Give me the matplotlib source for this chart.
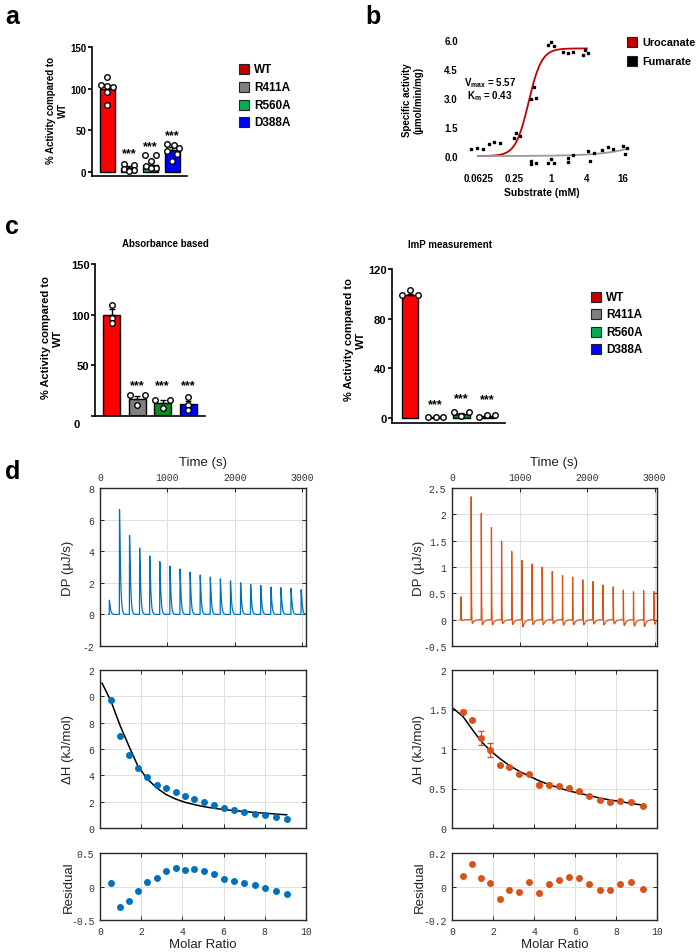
import numpy as np
import matplotlib.pyplot as plt
from matplotlib.patches import Rectangle

plt.rcParams["font.family"] = ["Liberation Sans", "DejaVu Sans"]
plt.rcParams["axes.unicode_minus"] = False

W, H = 698, 953

# ---------------------------------------------------------------------------
# Data
# ---------------------------------------------------------------------------
groups = ["WT", "R411A", "R560A", "D388A"]

# panel a: % activity (bars = mean, error = SEM, open circles = replicates)
a_mean = [100, 5, 9, 27]
a_sem = [5, 1.8, 3, 3]
a_points = [[114, 105, 103, 102, 96, 80],
            [10, 9, 4, 2, 3, 1],
            [21, 20, 13, 7, 5, 5],
            [34, 33, 29, 25, 22, 13]]
a_star_y = [23, 31, 44]

# panel b: substrate titration
uro_x = [0.048, 0.06, 0.076, 0.094, 0.115, 0.143, 0.245, 0.27, 0.31,
         0.47, 0.53, 0.58, 0.91, 1.01, 1.15, 1.58, 1.97, 2.38, 3.4, 3.73, 4.2]
uro_y = [0.34, 0.43, 0.34, 0.63, 0.72, 0.69, 0.93, 1.17, 1.03,
         2.95, 3.55, 3.0, 5.73, 5.91, 5.69, 5.38, 5.35, 5.4, 5.21, 5.49, 5.35]
fum_x = [0.48, 0.48, 0.58, 0.91, 1.01, 1.15, 1.97, 1.97, 2.38,
         4.2, 4.6, 5.3, 7.3, 8.9, 11.1, 15.8, 17.3, 18.9]
fum_y = [-0.43, -0.26, -0.34, -0.34, -0.14, -0.34, -0.31, -0.09, 0.07,
         0.26, -0.24, 0.17, 0.29, 0.46, 0.34, 0.5, 0.12, 0.43]
vmax, km, hill_n = 5.57, 0.43, 4.0
fum_slope = 0.02

# panel c: absorbance based / ImP measurement
c1_mean = [100, 17, 13, 11.5]
c1_sem = [5.5, 3.0, 2.7, 3.5]
c1_points = [[110, 97, 92], [20.5, 20.5, 11], [16, 16, 8], [18.5, 11, 6]]
c1_star_y = [30, 30, 30]

c2_mean = [99, 0.4, 2.6, 1.5]
c2_sem = [1.2, 0.2, 1.2, 0.6]
c2_points = [[99, 99, 103], [0.3, 0.3, 0.3], [4.5, 4.5, 1], [2, 2, 0.5]]
c2_star_y = [11, 16, 15]

# panel d: ITC, left (blue) and right (orange)
inj_t_L = [137, 287, 436, 586, 736, 885, 1035, 1185, 1334, 1484,
           1634, 1783, 1933, 2083, 2232, 2382, 2532, 2681, 2831, 2981]
peak_L = [0.9, 6.64, 5.0, 4.2, 3.7, 3.34, 3.06, 2.87, 2.68, 2.48,
          2.36, 2.25, 2.12, 2.0, 1.9, 1.84, 1.73, 1.69, 1.65, 1.56]
inj_t_R = [130, 282, 432, 582, 732, 882, 1033, 1183, 1333, 1483,
           1634, 1784, 1934, 2084, 2234, 2385, 2535, 2685, 2835, 2986]
peak_R = [0.45, 2.42, 2.13, 1.86, 1.58, 1.40, 1.27, 1.16, 1.10, 1.0,
          0.95, 0.91, 0.86, 0.81, 0.76, 0.71, 0.675, 0.65, 0.68, 0.62]
dip_R = [0.02, 0.10, 0.13, 0.13, 0.10, 0.12, 0.17, 0.12, 0.12, 0.10,
         0.13, 0.12, 0.12, 0.10, 0.12, 0.10, 0.13, 0.14, 0.15, 0.10]

mr_L = [0.53, 0.97, 1.41, 1.84, 2.28, 2.75, 3.2, 3.67, 4.13, 4.58,
        5.05, 5.53, 6.02, 6.5, 7.0, 7.52, 8.03, 8.53, 9.06]
dh_L = [9.72, 6.99, 5.54, 4.53, 3.9, 3.29, 3.01, 2.71, 2.41, 2.22,
        1.95, 1.75, 1.5, 1.33, 1.2, 1.08, 0.95, 0.83, 0.7]
res_L = [0.05, -0.31, -0.21, -0.07, 0.07, 0.12, 0.23, 0.27, 0.24, 0.26,
         0.23, 0.18, 0.11, 0.085, 0.05, 0.015, -0.025, -0.07, -0.115]
fit_x_L = [0.1, 0.53, 0.97, 1.41, 1.84, 2.28, 2.75, 3.2, 3.67, 4.13, 4.58,
           5.05, 5.53, 6.02, 6.5, 7.0, 7.52, 8.03, 8.53, 9.06]
fit_y_L = [11.0, 9.65, 7.8, 6.2, 4.7, 3.75, 3.05, 2.55, 2.2, 1.95, 1.78,
           1.62, 1.5, 1.4, 1.32, 1.25, 1.18, 1.12, 1.06, 1.0]

mr_R = [0.54, 0.98, 1.41, 1.87, 2.33, 2.8, 3.27, 3.74, 4.23, 4.72,
        5.2, 5.69, 6.2, 6.7, 7.2, 7.7, 8.2, 8.75, 9.3]
dh_R = [1.47, 1.37, 1.14, 0.99, 0.8, 0.77, 0.68, 0.68, 0.55, 0.55,
        0.53, 0.51, 0.47, 0.41, 0.35, 0.325, 0.34, 0.333, 0.28]
dh_err_R = [0.02, 0.015, 0.085, 0.085, 0.01, 0.01, 0.01, 0.01, 0.015, 0.015,
            0.015, 0.01, 0.01, 0.01, 0.01, 0.01, 0.01, 0.01, 0.01]
res_R = [0.064, 0.135, 0.048, 0.018, -0.076, -0.022, -0.034, 0.028, -0.036, 0.012,
         0.036, 0.054, 0.05, 0.012, -0.02, -0.018, 0.014, 0.028, -0.012]
fit_x_R = [0.08, 0.54, 0.98, 1.41, 1.87, 2.33, 2.8, 3.27, 3.74, 4.23, 4.72,
           5.2, 5.69, 6.2, 6.7, 7.2, 7.7, 8.2, 8.75, 9.3]
fit_y_R = [1.51, 1.41, 1.25, 1.10, 0.98, 0.88, 0.79, 0.72, 0.66, 0.60, 0.55,
           0.51, 0.47, 0.44, 0.41, 0.38, 0.355, 0.335, 0.31, 0.29]

# ---------------------------------------------------------------------------
# Style
# ---------------------------------------------------------------------------
KEY_COLORS = ["#c00000", "#808080", "#00b050", "#0000ff"]
A_COLORS = ["#ff0000", "#808080", "#1f9e3a", "#0000ff"]
C_COLORS = ["#ff0000", "#808080", "#0b8a1f", "#0000ff"]
BLUE, ORANGE = "#0072bd", "#d95319"
MONO = ["Liberation Mono", "DejaVu Sans Mono"]

A_JITTER = [[0, -0.27, 0, 0.25, 0, 0],
            [-0.23, 0.22, -0.23, 0, 0.22, 0],
            [-0.27, 0.23, 0, -0.23, 0.23, 0],
            [-0.23, 0.07, 0.3, -0.23, 0.23, 0]]
C1_JITTER = [[0, 0, 0], [-0.3, 0.3, 0], [-0.3, 0.3, 0], [0, 0, 0]]
C2_JITTER = [[-0.3, 0.3, 0], [-0.3, 0, 0.3], [-0.3, 0.3, 0], [0.3, 0, -0.3]]

fig = plt.figure(figsize=(W / 100, H / 100), dpi=100)


def box(l, t, r, b):
    """Axes from pixel edges (top-left origin)."""
    return fig.add_axes([l / W, 1 - b / H, (r - l) / W, (b - t) / H])


def ftext(x, y, s, **kw):
    return fig.text(x / W, 1 - y / H, s, **kw)


def key(x, ys, labels, colors, size=10, fs=8):
    for y, lab, col in zip(ys, labels, colors):
        fig.add_artist(Rectangle((x / W, 1 - (y + size / 2) / H), size / W, size / H,
                                 facecolor=col, edgecolor="#222222", lw=0.8,
                                 transform=fig.transFigure))
        ftext(x + size + 5, y, lab, fontsize=fs, fontweight="bold", va="center")


def prism_bars(ax, mean, sem, points, jitter, colors, width, stars, star_fs=9):
    xs = np.arange(len(mean))
    ax.bar(xs, mean, width=width, color=colors, edgecolor="black", lw=1.0, zorder=2)
    ax.errorbar(xs, mean, yerr=[np.zeros(len(sem)), sem], fmt="none",
                ecolor="black", elinewidth=1.0, capsize=2.5, capthick=1.0, zorder=3)
    for i, (pts, jit) in enumerate(zip(points, jitter)):
        ax.plot(np.array(jit) + i, pts, "o", ms=4, mfc="white", mec="black",
                mew=1.0, zorder=4, clip_on=False)
    for i, y in enumerate(stars):
        ax.text(i + 1, y, "***", ha="center", va="center", fontsize=star_fs,
                fontweight="bold")
    for s in ("top", "right"):
        ax.spines[s].set_visible(False)
    for s in ("left", "bottom"):
        ax.spines[s].set_linewidth(1.2)
    ax.set_xticks([])
    ax.tick_params(axis="y", length=3, width=1.2, labelsize=7, pad=1)
    for lab in ax.get_yticklabels():
        lab.set_fontweight("bold")


# ---------------------------------------------------------------------------
# a
# ---------------------------------------------------------------------------
ftext(5, 17, "a", fontsize=18, fontweight="bold", va="center")
ax = box(92, 48, 187, 177)
ax.set_ylim(-4.8, 150)
ax.set_xlim(-0.7, 3.68)
ax.set_yticks([0, 50, 100, 150])
prism_bars(ax, a_mean, a_sem, a_points, A_JITTER, A_COLORS, 0.69, a_star_y)
ftext(57, 110, "% Activity compared to\nWT", rotation=90, ha="center", va="center",
      fontsize=7, fontweight="bold", multialignment="center")
key(239, [70, 88, 106, 123], groups, KEY_COLORS, fs=8.5)

# ---------------------------------------------------------------------------
# b
# ---------------------------------------------------------------------------
ftext(365, 17, "b", fontsize=18, fontweight="bold", va="center")
ax = box(462, 38, 632, 170)
ax.set_xscale("log", base=2)
ax.set_xlim(2 ** -4.9, 2 ** 4.5)
ax.set_ylim(-0.67, 6.16)
xu = np.geomspace(0.0625, 4, 200)
ax.plot(xu, vmax * xu ** hill_n / (km ** hill_n + xu ** hill_n), color="#c00000", lw=1.3)
xf = np.geomspace(0.0625, 19, 200)
ax.plot(xf, fum_slope * xf, color="#999999", lw=1.3)
ax.plot(uro_x, uro_y, "s", color="black", ms=1.8)
ax.plot(fum_x, fum_y, "s", color="black", ms=1.8)
ax.set_xticks([0.0625, 0.25, 1, 4, 16])
ax.set_xticklabels(["0.0625", "0.25", "1", "4", "16"])
ax.set_yticks([0, 1.5, 3, 4.5, 6])
ax.set_yticklabels(["0.0", "1.5", "3.0", "4.5", "6.0"])
ax.xaxis.set_minor_locator(plt.NullLocator())
ax.tick_params(length=0, labelsize=7, pad=3)
for lab in ax.get_xticklabels() + ax.get_yticklabels():
    lab.set_fontweight("bold")
for s in ax.spines.values():
    s.set_visible(False)
ftext(490, 83, r"V$_{\mathregular{max}}$ = 5.57", ha="center", va="center",
      fontsize=7, fontweight="bold")
ftext(490, 96, r"K$_{\mathregular{m}}$ = 0.43", ha="center", va="center",
      fontsize=7, fontweight="bold")
ftext(413, 100, "Specific activity\n(µmol/min/mg)", rotation=90, ha="center",
      va="center", fontsize=7, fontweight="bold", multialignment="center")
ftext(542, 193, "Substrate (mM)", ha="center", va="center", fontsize=7.5,
      fontweight="bold")
key(627, [43, 62], ["Urocanate", "Fumarate"], ["#c00000", "black"], size=10, fs=7.8)

# ---------------------------------------------------------------------------
# c
# ---------------------------------------------------------------------------
ftext(5, 227, "c", fontsize=18, fontweight="bold", va="center")
ax = box(95, 265, 205, 417)
ax.set_ylim(0, 150)
ax.set_xlim(-0.67, 3.67)
ax.set_yticks([0, 50, 100, 150])
ax.set_yticklabels(["", "50", "100", "150"])
prism_bars(ax, c1_mean, c1_sem, c1_points, C1_JITTER, C_COLORS, 0.67, c1_star_y)
ax.tick_params(axis="y", labelsize=8)
ftext(77, 425, "0", ha="center", va="center", fontsize=8, fontweight="bold")
ftext(165, 244, "Absorbance based", ha="center", va="center", fontsize=7,
      fontweight="bold")
ftext(52, 338, "% Activity compared to\nWT", rotation=90, ha="center", va="center",
      fontsize=8, fontweight="bold", multialignment="center")

ax = box(392, 270, 505, 424)
ax.set_ylim(-4.4, 120)
ax.set_xlim(-0.7, 3.7)
ax.set_yticks([0, 40, 80, 120])
prism_bars(ax, c2_mean, c2_sem, c2_points, C2_JITTER, C_COLORS, 0.66, c2_star_y)
ax.tick_params(axis="y", labelsize=8)
for lab in ax.get_yticklabels():
    lab.set_fontweight("bold")
ftext(450, 245, "ImP measurement", ha="center", va="center", fontsize=7,
      fontweight="bold")
ftext(355, 340, "% Activity compared to\nWT", rotation=90, ha="center", va="center",
      fontsize=8, fontweight="bold", multialignment="center")
key(591, [298, 315, 333, 350], groups, KEY_COLORS, fs=8.5)

# ---------------------------------------------------------------------------
# d
# ---------------------------------------------------------------------------
ftext(5, 472, "d", fontsize=18, fontweight="bold", va="center")


def itc_trace(times, heights, t_stop, tau, dips=None, tau_dip=25.0):
    t = np.arange(times[0] - 12, t_stop, 0.5)
    y = np.zeros_like(t)
    for k, (t0, h) in enumerate(zip(times, heights)):
        dt = t - t0
        on = dt >= 0
        y += np.where(on, h * np.minimum(dt / 2.0, 1)
                      * np.exp(-np.clip(dt - 2.0, 0, None) ** 1.2 / tau), 0)
        if dips is not None:
            y -= np.where(on, dips[k] * (np.exp(-dt / tau_dip) - np.exp(-dt / 2.5)) / 0.55, 0)
    return t, y


def matlab_axes(ax, xlim, ylim, yticks, yticklabels=None):
    ax.set_xlim(*xlim)
    ax.set_ylim(*ylim)
    ax.set_yticks(yticks)
    if yticklabels is not None:
        ax.set_yticklabels(yticklabels)
    ax.grid(True, color="#dedede", lw=0.7)
    ax.set_axisbelow(True)
    ax.tick_params(direction="in", length=3, width=0.7, top=True, right=True,
                   labelsize=7, labelcolor="#333333", colors="#262626", pad=4)
    for lab in ax.get_xticklabels() + ax.get_yticklabels():
        lab.set_family(MONO)
    for s in ax.spines.values():
        s.set_color("#262626")
        s.set_linewidth(1.0)


columns = [
    dict(l=100, r=306, color=BLUE, t=inj_t_L, peaks=peak_L, dips=None, tau=30,
         tmax=3055, dp_ylim=(-2, 8), dp_ticks=[-2, 0, 2, 4, 6, 8], dp_labels=None,
         mr=mr_L, dh=dh_L, err=None, fx=fit_x_L, fy=fit_y_L,
         dh_ylim=(0, 12), dh_ticks=[0, 2, 4, 6, 8, 10, 12],
         dh_labels=["0", "2", "4", "6", "8", "0", "2"],
         res=res_L, res_ylim=(-0.5, 0.5), res_ticks=[-0.5, 0, 0.5],
         res_labels=["-0.5", "0", "0.5"], lab_x=68),
    dict(l=452, r=657, color=ORANGE, t=inj_t_R, peaks=peak_R, dips=dip_R, tau=6,
         tmax=3035, dp_ylim=(-0.5, 2.5), dp_ticks=[-0.5, 0, 0.5, 1, 1.5, 2, 2.5],
         dp_labels=["-0.5", "0", "0.5", "1", "1.5", "2", "2.5"],
         mr=mr_R, dh=dh_R, err=dh_err_R, fx=fit_x_R, fy=fit_y_R,
         dh_ylim=(0, 2), dh_ticks=[0, 0.5, 1, 1.5, 2],
         dh_labels=["0", "0.5", "1", "1.5", "2"],
         res=res_R, res_ylim=(-0.2, 0.2), res_ticks=[-0.2, 0, 0.2],
         res_labels=["-0.2", "0", "0.2"], lab_x=419),
]

for col in columns:
    l, r = col["l"], col["r"]
    # raw thermogram
    ax = box(l, 489, r, 647)
    t, y = itc_trace(col["t"], col["peaks"], col["tmax"] - 15, col["tau"], col["dips"])
    ax.plot(t, y, color=col["color"], lw=0.9)
    matlab_axes(ax, (0, col["tmax"]), col["dp_ylim"], col["dp_ticks"], col["dp_labels"])
    ax.set_xticks([0, 1000, 2000, 3000])
    ax.tick_params(labeltop=True, labelbottom=False)
    for lab in ax.get_xticklabels():
        lab.set_family(MONO)
    ax.set_xlabel("Time (s)", fontsize=9.5, color="#222222", labelpad=5)
    ax.xaxis.set_label_position("top")
    ftext(col["lab_x"], 568, "DP (µJ/s)", rotation=90, ha="center", va="center",
          fontsize=9.5, color="#222222")

    # integrated heats
    ax = box(l, 671, r, 829)
    ax.plot(col["fx"], col["fy"], color="black", lw=1.1, zorder=3)
    if col["err"] is None:
        ax.plot(col["mr"], col["dh"], "o", color=col["color"], ms=4, zorder=4)
    else:
        ax.errorbar(col["mr"], col["dh"], yerr=col["err"], fmt="o", color=col["color"],
                    ms=4, capsize=2.5, elinewidth=0.8, zorder=4)
    matlab_axes(ax, (0, 10), col["dh_ylim"], col["dh_ticks"], col["dh_labels"])
    ax.set_xticks([0, 2, 4, 6, 8, 10])
    ax.tick_params(labelbottom=False)
    ftext(col["lab_x"], 750, "ΔH (kJ/mol)", rotation=90, ha="center", va="center",
          fontsize=9.5, color="#222222")

    # residuals
    ax = box(l, 854, r, 921)
    ax.plot(col["mr"], col["res"], "o", color=col["color"], ms=4)
    matlab_axes(ax, (0, 10), col["res_ylim"], col["res_ticks"], col["res_labels"])
    ax.set_xticks([0, 2, 4, 6, 8, 10])
    for lab in ax.get_xticklabels():
        lab.set_family(MONO)
    ax.set_xlabel("Molar Ratio", fontsize=9.5, color="#222222", labelpad=2)
    ftext(col["lab_x"] + 1, 887, "Residual", rotation=90, ha="center", va="center",
          fontsize=9.5, color="#222222")

fig.savefig("out.png", dpi=100)
